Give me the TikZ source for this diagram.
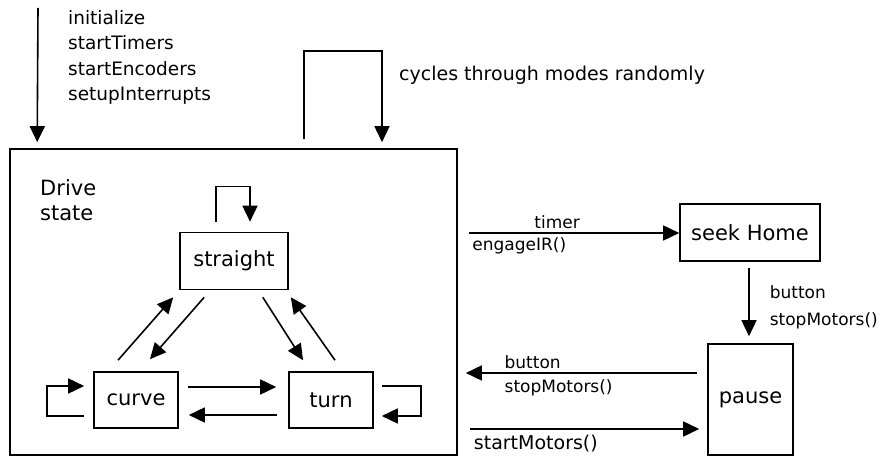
\documentclass[tikz,border=0pt]{standalone}
\usepackage{fontspec}
\setmainfont{DejaVu Sans}
\usetikzlibrary{arrows.meta, calc, positioning}
\tikzstyle{state} = [rectangle, draw=black, line width=1.6pt, inner sep=0pt, font=\fontsize{21}{25}\selectfont]
\tikzstyle{arrow} = [line width=1.6pt, -{Triangle[length=16pt, width=15pt]}]
\tikzstyle{line} = [line width=1.6pt, -]
\tikzstyle{lbl} = [font=\fontsize{18.5}{25.5}\selectfont, align=left, inner sep=1pt]

\begin{document}
\begin{tikzpicture}[x=1pt, y=-1pt, font=\fontsize{17}{22}\selectfont]
\useasboundingbox (0,0) rectangle (895,457);

% Zustaende
\node[state, minimum width=447pt, minimum height=306pt] (drive) at (233.5,302) {};
\node[lbl, anchor=north west, font=\fontsize{21}{25}\selectfont] (drivelabel) at (39,178) {Drive\\state};
\node[state, minimum width=108pt, minimum height=57pt] (straight) at (234,261) {straight};
\node[state, minimum width=84pt, minimum height=56pt] (curve) at (136,400) {curve};
\node[state, minimum width=84pt, minimum height=56pt] (turn) at (331,400) {turn};
\node[state, minimum width=140pt, minimum height=57pt] (seek) at (750,232.5) {seek Home};
\node[state, minimum width=85pt, minimum height=111pt] (pause) at (750.5,399.5) {pause};

% Start
\coordinate (start) at (38,8);
\draw[arrow] (start) -- ($(drive.north west)+(28,-6)$);
\node[lbl, anchor=north west] (init) at (67,9) {initialize\\startTimers\\startEncoders\\setupInterrupts};

% Drive-Schleife
\coordinate (cycA) at ($(drive.north)+(70.5,-9)$);
\coordinate (cycB) at ($(drive.north)+(148.5,-6)$);
\draw[arrow] (cycA) -- ++(0,-88) -| (cycB);
\node[lbl, anchor=west, font=\fontsize{19}{22}\selectfont] (cyclabel) at (398,75) {cycles through modes randomly};

% innere Schleifen
\draw[arrow] ($(straight.north)+(-18,-10)$) -- ++(0,-35) -| ($(straight.north)+(16,-10)$);
\draw[arrow] ($(curve.west)+(-9,16)$) -- ++(-37,0) |- ($(curve.west)+(-9,-14)$);
\draw[arrow] ($(turn.east)+(8,-14)$) -- ++(39,0) |- ($(turn.east)+(8,16)$);

% Uebergaenge innen
\draw[arrow] ($(curve.east)+(9,-13)$) -- ($(turn.west)+(-12,-13)$);
\draw[arrow] ($(turn.west)+(-11,15)$) -- ($(curve.east)+(10,15)$);
\draw[arrow] ($(curve.north)+(-18,-11)$) -- ($(straight.south west)+(-6,7)$);
\draw[arrow] ($(straight.south west)+(25,7)$) -- ($(curve.north)+(14,-12)$);
\draw[arrow] ($(straight.south east)+(-26,7)$) -- ($(turn.north)+(-28,-11)$);
\draw[arrow] ($(turn.north)+(4,-11)$) -- ($(straight.south east)+(2,7)$);

% Uebergaenge aussen
\draw[arrow] ($(drive.east)+(11,-69)$) -- node[pos=0.42, above] {timer} node[pos=0.24, below] {engageIR()} (seek.west |- 0,233);
\draw[arrow] ($(seek.south)+(-1,6)$) -- node[right, lbl, font=\fontsize{17}{27}\selectfont, xshift=19pt, yshift=-5pt] {button\\stopMotors()} ($(pause.north)+(-1.5,-7)$);
\draw[arrow] ($(pause.west)+(-10,-26.5)$) -- node[pos=0.85, anchor=south west] {button} node[pos=0.85, anchor=north west, yshift=-2pt] {stopMotors()} ($(drive.east)+(8,71)$);
\draw[arrow] ($(drive.east)+(12,127)$) -- node[pos=0, anchor=north west, yshift=-2pt, font=\fontsize{19}{22}\selectfont] {startMotors()} ($(pause.west)+(-8,29.5)$);

\end{tikzpicture}
\end{document}
